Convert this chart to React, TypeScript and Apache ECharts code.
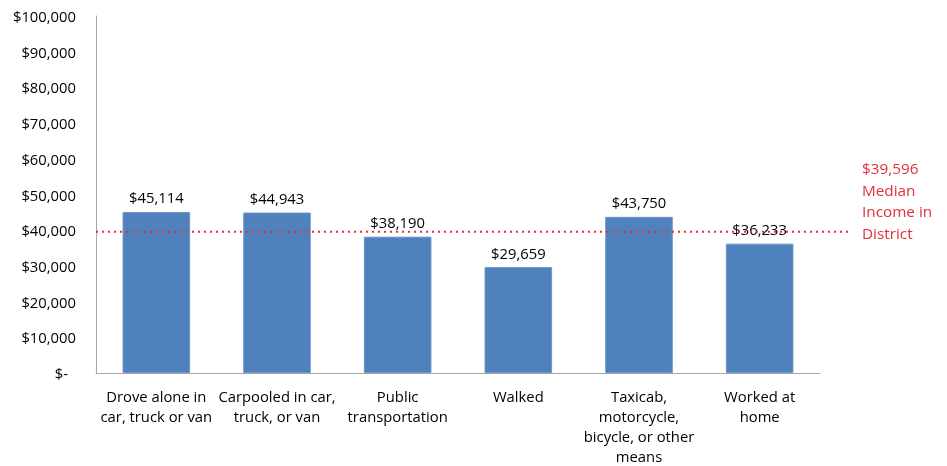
import React, { useEffect, useRef } from "react";
import * as echarts from "echarts";

const categories = [
  "Drove alone in\ncar, truck or van",
  "Carpooled in car,\ntruck, or van",
  "Public\ntransportation",
  "Walked",
  "Taxicab,\nmotorcycle,\nbicycle, or other\nmeans",
  "Worked at\nhome",
];
const incomes = [45114, 44943, 38190, 29659, 43750, 36233];
const medianIncome = 39596;
const medianLabel = ["$39,596", "Median", "Income in", "District"];

const FONT = "'Open Sans', Lato, sans-serif";

function fmt(v: number): string {
  if (v === 0) return "$-";
  return "$" + v.toLocaleString("en-US");
}

export default function App() {
  const ref = useRef<HTMLDivElement>(null);
  useEffect(() => {
    if (!ref.current) return;
    const chart = echarts.init(ref.current, undefined, { renderer: "svg" });
    chart.setOption({
      animation: false,
      grid: { left: 96, right: 127, top: 16, bottom: 93, containLabel: false },
      xAxis: {
        type: "category",
        data: categories,
        axisLine: { show: true, lineStyle: { color: "#A6A6A6", width: 1 } },
        axisTick: { show: false },
        axisLabel: {
          interval: 0,
          color: "#000",
          fontFamily: FONT,
          fontSize: 14.8,
          lineHeight: 20,
          margin: 13,
          verticalAlign: "top",
        },
      },
      yAxis: {
        type: "value",
        min: 0,
        max: 100000,
        interval: 10000,
        axisLine: { show: true, lineStyle: { color: "#A6A6A6", width: 1 } },
        axisTick: { show: false },
        splitLine: { show: false },
        axisLabel: {
          color: "#000",
          fontFamily: FONT,
          fontSize: 14.8,
          margin: 20,
          formatter: (v: number) => (v === 0 ? "{z|$-}" : fmt(v)),
          rich: {
            z: {
              color: "#000",
              fontFamily: FONT,
              fontSize: 14.8,
              padding: [0, 8, 0, 0],
            },
          },
        },
      },
      series: [
        {
          type: "bar",
          data: incomes,
          barWidth: "56%",
          itemStyle: { color: "#4F81BD", borderColor: "#6C96C8", borderWidth: 1 },
          label: {
            show: true,
            position: "top",
            distance: 7,
            color: "#000",
            fontFamily: FONT,
            fontSize: 14.8,
            formatter: (p: any) => fmt(p.value),
          },
        },
      ],
    });
    const y = chart.convertToPixel({ yAxisIndex: 0 }, medianIncome) as number;
    chart.setOption({
      graphic: [
        {
          type: "line",
          shape: { x1: 96, y1: y, x2: 852, y2: y },
          style: { stroke: "#E0313C", lineWidth: 2, lineDash: [2, 4] },
          z: 10,
        },
        {
          type: "text",
          x: 862,
          y: y + 12,
          style: {
            text: medianLabel.join("\n"),
            fill: "#E0313C",
            font: `15.3px ${FONT}`,
            lineHeight: 21.5,
            verticalAlign: "bottom",
            align: "left",
          },
        },
      ],
    });
    return () => chart.dispose();
  }, []);
  return (
    <div
      ref={ref}
      style={{ position: "fixed", left: 0, top: 0, width: 947, height: 466 }}
    />
  );
}
